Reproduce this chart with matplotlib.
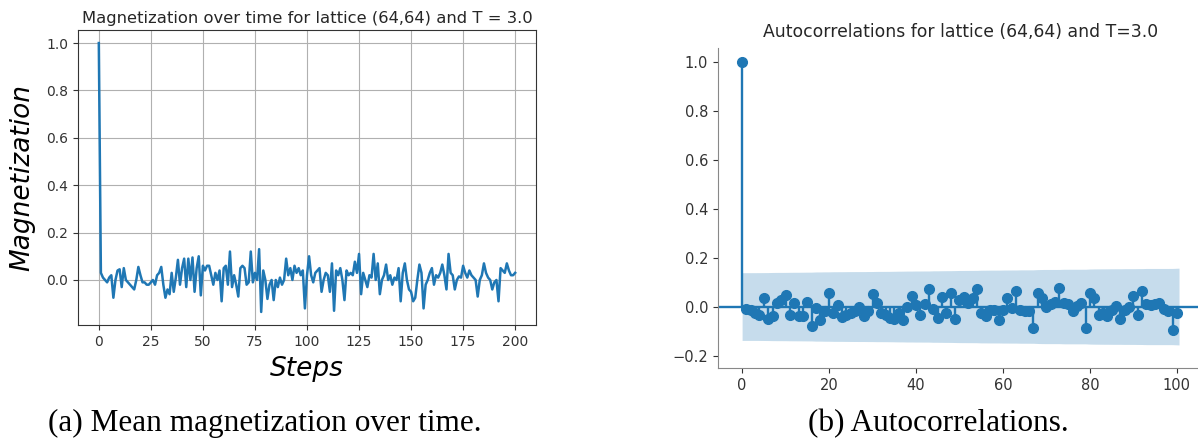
import numpy as np
import matplotlib
matplotlib.use('Agg')
import matplotlib.pyplot as plt

# ---------------- data ----------------
steps = np.arange(201)
magnetization = [
    1.0, 0.03, 0.01, 0.0, -0.01, 0.01, 0.02, -0.075, 0.0, 0.04,
    0.045, -0.03, 0.05, 0.0, -0.01, -0.02, -0.03, -0.04, 0.0, 0.055,
    0.02, -0.01, -0.01, -0.02, -0.02, -0.01, 0.0, -0.02, 0.02, 0.03,
    0.055, -0.02, -0.075, -0.04, -0.06, 0.03, -0.05, 0.01, 0.085, -0.02,
    0.05, 0.09, -0.03, 0.09, 0.0, 0.095, -0.05, 0.05, 0.1, -0.065,
    0.06, 0.04, 0.06, 0.06, 0.02, -0.02, 0.03, 0.0, 0.04, -0.09,
    0.05, 0.06, -0.02, 0.12, -0.03, 0.02, -0.02, -0.07, 0.05, 0.06,
    0.05, -0.02, -0.01, 0.12, -0.01, 0.03, 0.0, 0.13, -0.135, 0.04,
    0.0, -0.08, -0.02, 0.0, -0.085, 0.0, -0.03, 0.01, -0.02, 0.0,
    0.09, 0.02, 0.05, 0.0, 0.06, 0.03, 0.05, 0.02, 0.04, -0.12,
    0.02, 0.1, 0.02, -0.01, 0.03, 0.04, 0.05, -0.05, 0.0, 0.03,
    0.02, -0.05, 0.07, -0.13, 0.04, 0.02, 0.05, 0.0, -0.085, 0.04,
    0.02, 0.03, 0.02, 0.077, 0.03, 0.11, -0.06, 0.03, 0.0, -0.03,
    0.02, 0.01, 0.11, 0.0, 0.07, -0.06, 0.0, 0.02, 0.065, 0.0,
    0.02, -0.02, 0.01, 0.0, 0.05, -0.09, 0.03, 0.07, 0.0, -0.04,
    -0.05, -0.09, -0.075, 0.0, 0.065, 0.03, -0.12, -0.02, 0.0, 0.03,
    0.05, -0.02, 0.02, 0.01, 0.03, 0.065, 0.02, -0.04, 0.11, 0.03,
    0.02, -0.04, 0.0, 0.015, 0.01, 0.06, 0.03, 0.01, 0.04, 0.02,
    0.01, 0.0, -0.07, 0.0, 0.02, 0.07, 0.03, 0.01, 0.0, -0.04,
    -0.01, 0.0, -0.09, 0.05, 0.04, 0.03, 0.07, 0.04, 0.02, 0.02,
    0.03,
]

lags = np.arange(101)
autocorr = [
    1.0, -0.012, -0.015, -0.027, -0.034, 0.035, -0.051, -0.038, 0.014, 0.025,
    0.049, -0.034, 0.016, -0.038, -0.04, 0.02, -0.078, -0.007, -0.054, -0.02,
    0.055, -0.027, 0.007, -0.043, -0.034, -0.027, -0.02, 0.0, -0.04, -0.02,
    0.052, 0.014, -0.027, -0.034, -0.047, -0.051, -0.027, -0.054, 0.0, 0.045,
    0.005, -0.034, 0.01, 0.072, -0.01, -0.045, 0.04, -0.027, 0.055, -0.051,
    0.027, 0.038, 0.014, 0.035, 0.072, -0.027, -0.038, -0.016, -0.016, -0.055,
    -0.016, 0.035, -0.005, 0.062, -0.016, -0.02, -0.02, -0.087, 0.055, 0.035,
    0.0, 0.01, 0.02, 0.075, 0.014, 0.01, -0.02, 0.003, 0.016, -0.087,
    0.057, 0.035, -0.034, -0.027, -0.038, -0.016, 0.003, -0.051, -0.016, 0.0,
    0.043, -0.034, 0.062, 0.01, 0.007, 0.01, 0.016, -0.01, -0.02, -0.097,
    -0.027,
]
nobs = 201

titles = ["Magnetization over time for lattice (64,64) and T = 3.0",
          "Autocorrelations for lattice (64,64) and T=3.0"]
captions = ["(a) Mean magnetization over time.", "(b) Autocorrelations."]

C0 = '#1f77b4'

fig = plt.figure(figsize=(11.98, 4.41), dpi=100)

# ---------------- left panel ----------------
ax1 = fig.add_axes([0.0651, 0.262, 0.3823, 0.671])
ax1.plot(steps, magnetization, color=C0, lw=1.8)
ax1.grid(True, color='#b0b0b0', lw=0.8)
ax1.set_xlim(-10, 210)
ax1.set_ylim(-0.192, 1.057)
ax1.set_xticks(np.arange(0, 201, 25))
ax1.set_yticks([0.0, 0.2, 0.4, 0.6, 0.8, 1.0])
ax1.set_title(titles[0], fontsize=11.8, color='#262626', pad=5)
ax1.set_xlabel('Steps', fontsize=19, fontstyle='italic', labelpad=5)
ax1.set_ylabel('Magnetization', fontsize=19, fontstyle='italic', labelpad=8)
ax1.tick_params(labelsize=10, colors='#333333')
for s in ax1.spines.values():
    s.set_color('#333333')

# ---------------- right panel ----------------
ax2 = fig.add_axes([0.5993, 0.166, 0.405, 0.725])
lag_arr = np.asarray(lags, dtype=float)
acf = np.asarray(autocorr)
varacf = np.ones(len(acf)) / nobs
varacf[0] = 1.0 / nobs
varacf[1] = 1.0 / nobs
varacf[2:] *= 1 + 2 * np.cumsum(acf[1:-1] ** 2)
interval = 1.96 * np.sqrt(varacf)
band_x = lag_arr.copy()
band_x[-1] += 0.5
ax2.fill_between(band_x, -interval, interval, color=C0, alpha=0.25, lw=0)
ax2.vlines(lag_arr, 0, acf, color=C0, lw=1.7)
ax2.axhline(0, color=C0, lw=1.7)
ax2.plot(lag_arr, acf, 'o', color=C0, markersize=7)
ax2.set_xlim(-5.55, 106.05)
ax2.set_ylim(-0.25, 1.055)
ax2.set_xticks(np.arange(0, 101, 20))
ax2.set_yticks([-0.2, 0.0, 0.2, 0.4, 0.6, 0.8, 1.0])
ax2.set_title(titles[1], fontsize=12.4, color='#262626', pad=8)
ax2.tick_params(labelsize=10.5, colors='#333333')
for side in ('top', 'right'):
    ax2.spines[side].set_visible(False)
for side in ('left', 'bottom'):
    ax2.spines[side].set_color('#888888')

# ---------------- captions ----------------
fig.text(48 / 1198, 1 - 431 / 441, captions[0], fontsize=22.5,
         family='Liberation Serif', ha='left', va='baseline')
fig.text(808 / 1198, 1 - 431 / 441, captions[1], fontsize=22.5,
         family='Liberation Serif', ha='left', va='baseline')

fig.savefig('out.png', dpi=100)
